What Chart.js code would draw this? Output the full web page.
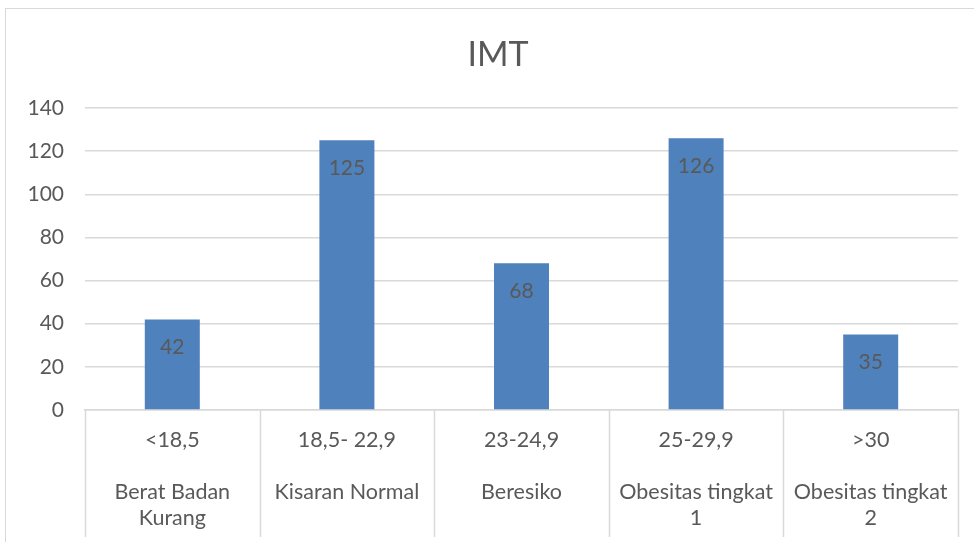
<!DOCTYPE html>
<html>
<head>
<meta charset="utf-8">
<script src="https://cdn.jsdelivr.net/npm/chart.js@4/dist/chart.umd.min.js"></script>
<style>
html,body{margin:0;padding:0;background:#fff;overflow:hidden}
#wrap{position:relative;width:974px;height:542px}
#frame{position:absolute;left:5px;top:8px;width:990px;height:560px;border:1.5px solid #d9d9d9;box-sizing:border-box}
canvas{position:absolute;left:0;top:0}
</style>
</head>
<body>
<div id="wrap">
<div id="frame"></div>
<canvas id="c" width="974" height="542"></canvas>
</div>
<script>
const chartTitle = "IMT";
const rangeLabels = ["<18,5", "18,5- 22,9", "23-24,9", "25-29,9", ">30"];
const categoryNames = [["Berat Badan", "Kurang"], ["Kisaran Normal"], ["Beresiko"], ["Obesitas tingkat", "1"], ["Obesitas tingkat", "2"]];
const values = [42, 125, 68, 126, 35];
const yTicks = [0, 20, 40, 60, 80, 100, 120, 140];

const labels = rangeLabels.map((r, i) => [r, ""].concat(categoryNames[i]));

const textColor = "#595959";
const fontFamily = "Lato, 'Open Sans', sans-serif";

const titlePlugin = {
  id: "customTitle",
  afterDraw(chart) {
    const ctx = chart.ctx;
    ctx.save();
    ctx.font = "34px " + fontFamily;
    ctx.fillStyle = textColor;
    ctx.textAlign = "center";
    ctx.textBaseline = "middle";
    ctx.fillText(chartTitle, 498, 55);
    ctx.restore();
  }
};

const valueLabelPlugin = {
  id: "valueLabels",
  afterDatasetsDraw(chart) {
    const ctx = chart.ctx;
    const meta = chart.getDatasetMeta(0);
    ctx.save();
    ctx.font = "21px " + fontFamily;
    ctx.fillStyle = "#595959";
    ctx.textAlign = "center";
    ctx.textBaseline = "middle";
    meta.data.forEach((bar, i) => {
      ctx.fillText(String(values[i]), bar.x, bar.y + 28);
    });
    ctx.restore();
  }
};

const separatorPlugin = {
  id: "separators",
  afterDraw(chart) {
    const x = chart.scales.x;
    const ctx = chart.ctx;
    ctx.save();
    ctx.strokeStyle = "#d9d9d9";
    ctx.lineWidth = 1.5;
    const n = labels.length;
    const step = (x.right - x.left) / n;
    for (let i = 0; i <= n; i++) {
      const px = Math.round(x.left + i * step) + 0.5;
      ctx.beginPath();
      ctx.moveTo(px, x.top);
      ctx.lineTo(px, x.bottom - 5);
      ctx.stroke();
    }
    ctx.restore();
  }
};

new Chart(document.getElementById("c"), {
  type: "bar",
  data: {
    labels: labels,
    datasets: [{
      data: values,
      backgroundColor: "#4f81bd",
      borderWidth: 0,
      categoryPercentage: 1,
      barPercentage: 0.315
    }]
  },
  options: {
    responsive: false,
    animation: false,
    events: [],
    layout: { padding: { left: 0, right: 16, top: 108, bottom: 0 } },
    plugins: {
      legend: { display: false },
      tooltip: { enabled: false },
      title: { display: false }
    },
    scales: {
      y: {
        min: 0,
        max: 140,
        afterBuildTicks(scale) { scale.ticks = yTicks.map(v => ({ value: v })); },
        afterFit(scale) { scale.width = 85; },
        ticks: {
          color: textColor,
          font: { family: fontFamily, size: 21 },
          padding: 21
        },
        grid: { color: "#d9d9d9", lineWidth: 1.5, drawTicks: false },
        border: { display: false }
      },
      x: {
        afterFit(scale) { scale.height = 132; },
        ticks: {
          color: textColor,
          font: { family: fontFamily, size: 21.5, lineHeight: 26 / 21.5 },
          padding: 17,
          maxRotation: 0,
          autoSkip: false
        },
        grid: { display: false, drawTicks: false },
        border: { display: true, color: "#d9d9d9", width: 1.5 }
      }
    }
  },
  plugins: [titlePlugin, valueLabelPlugin, separatorPlugin]
});
</script>
</body>
</html>
